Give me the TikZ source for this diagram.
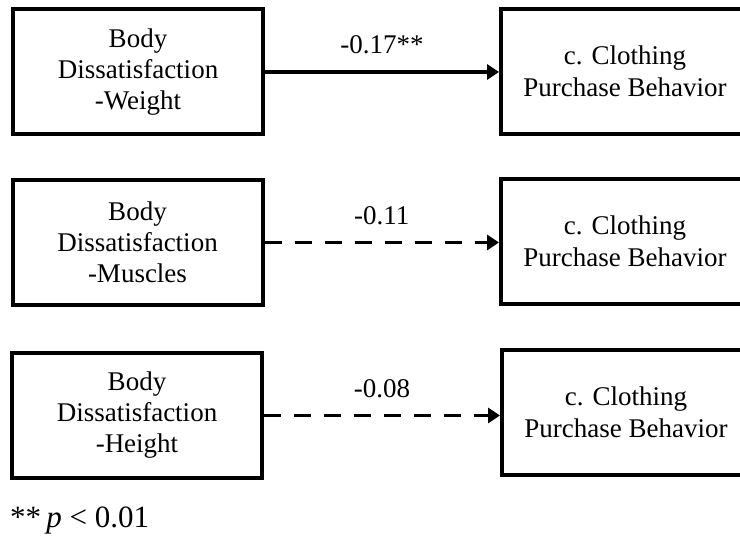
\documentclass[tikz,border=0pt]{standalone}
\usepackage{fontspec}
\setmainfont{Liberation Serif}
\usetikzlibrary{arrows.meta}

\tikzset{
  varbox/.style={draw, line width=4pt, rectangle, align=center, inner sep=0pt,
    minimum width=250pt, minimum height=125pt,
    font=\fontsize{27}{31}\selectfont},
  outbox/.style={draw, line width=4pt, rectangle, align=center, inner sep=0pt,
    minimum width=248pt, minimum height=125pt,
    font=\fontsize{27}{32}\selectfont},
  path/.style={line width=3.5pt, -{Triangle[length=12pt,width=15pt]}},
  weakpath/.style={path, dash pattern=on 17pt off 13pt},
  coef/.style={midway, above, inner sep=0pt, outer sep=0pt, yshift=18pt,
    font=\fontsize{27}{31}\selectfont},
}

\begin{document}
\begin{tikzpicture}[x=1pt, y=-1pt]
\useasboundingbox (0,0) rectangle (740,540);
\clip (0,0) rectangle (740,540);

% predictors
\node[varbox] (w) at (138,72)    {Body\\Dissatisfaction\\-Weight};
\node[varbox] (m) at (137.5,242.5) {Body\\Dissatisfaction\\-Muscles};
\node[varbox] (h) at (137,415.5) {Body\\Dissatisfaction\\-Height};

% outcomes (boxes run past the right edge)
\node[outbox] (cw) at (625,71.5)  {c. Clothing\\Purchase Behavior};
\node[outbox] (cm) at (625,241.5) {c. Clothing\\Purchase Behavior};
\node[outbox] (ch) at (626,412.5) {c. Clothing\\Purchase Behavior};

% paths with coefficients
\draw[path] (w.east) -- node[coef] (lw) {-0.17**} (cw.west |- w.east);
\draw[weakpath] (m.east) -- node[coef] (lm) {-0.11} (cm.west |- m.east);
\draw[weakpath] (h.east) -- node[coef] (lh) {-0.08} (ch.west |- h.east);

% significance note
\node[anchor=base west, inner sep=0pt, font=\fontsize{31}{36}\selectfont]
  (note) at (10,527) {**\,\textit{p} < 0.01};
\end{tikzpicture}
\end{document}
